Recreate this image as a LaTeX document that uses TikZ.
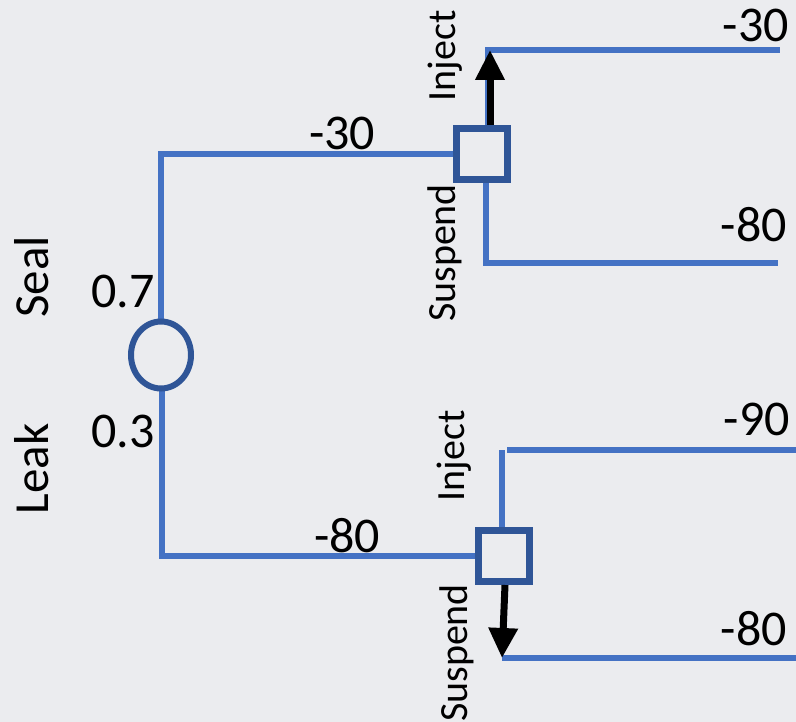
\documentclass[tikz,border=0pt]{standalone}
\usepackage{fontspec}
\setmainfont{Carlito}
\usetikzlibrary{shapes.geometric,arrows.meta}
\definecolor{bgcol}{RGB}{235,236,239}
\definecolor{branchblue}{RGB}{68,114,196}
\definecolor{nodeblue}{RGB}{47,85,151}
\begin{document}
\begin{tikzpicture}[x=1pt,y=-1pt,
  branch/.style={draw=branchblue,line width=6pt},
  chance/.style={ellipse,draw=nodeblue,line width=6pt,fill=bgcol,
    minimum width=60pt,minimum height=67pt,inner sep=0pt},
  decision/.style={rectangle,draw=nodeblue,line width=7pt,fill=bgcol,
    minimum size=51pt,inner sep=0pt},
  choice/.style={draw=black,line width=7pt,
    -{Triangle[width=28pt,length=30pt]}},
  payoff/.style={font=\fontsize{50}{56}\selectfont,inner sep=0pt},
  outcome/.style={font=\fontsize{49}{54}\selectfont,inner sep=0pt,rotate=90,anchor=base},
  action/.style={font=\fontsize{40}{46}\selectfont,inner sep=0pt,rotate=90,anchor=base}]
% canvas
\fill[bgcol] (0,0) rectangle (796,722);
\useasboundingbox (0,0) rectangle (796,722);

% ends of the terminal branches
\coordinate (t1) at (780,50);
\coordinate (t2) at (778,263);
\coordinate (t3) at (796,450);
\coordinate (t4) at (796,658);

% the two decision nodes
\node[decision] (d1) at (482,154) {};
\node[decision] (d2) at (504,556) {};

% branches from the chance node
\draw[branch] (161,340) |- (d1.west);
\draw[branch] (162,370) |- (d2.west);
\node[chance] (c) at (161,355) {};

% upper decision: inject (chosen) / suspend
\draw[branch] ([xshift=6pt]d1.north) |- (t1);
\draw[branch] ([xshift=4pt]d1.south) |- (t2);
\draw[choice] ([xshift=8pt]d1.north) -- ([xshift=8pt]d1.north |- t1);

% lower decision: inject / suspend (chosen)
\draw[branch] ([xshift=-2pt]d2.north) -- ([xshift=-2pt]d2.north |- t3);
\draw[branch] ([xshift=3pt]d2.north |- t3) -- (t3);
\draw[branch] ([xshift=-2pt]d2.south |- t4) -- (t4);
\draw[choice] ([xshift=1pt]d2.south) -- ([xshift=-2pt]d2.south |- t4);

% payoffs
\node[payoff,anchor=base] (p1) at (342,150) {-30};
\node[payoff,anchor=base] (p2) at (347,552) {-80};
\node[payoff,anchor=base east] (p3) at (789,42) {-30};
\node[payoff,anchor=base east] (p4) at (787,242) {-80};
\node[payoff,anchor=base east] (p5) at (790,435) {-90};
\node[payoff,anchor=base east] (p6) at (787,645) {-80};

% probabilities
\node[payoff,anchor=base] (pr1) at (123,308) {0.7};
\node[payoff,anchor=base] (pr2) at (123,447) {0.3};

% outcomes and actions
\node[outcome] (o1) at (48,277) {Seal};
\node[outcome] (o2) at (48,469) {Leak};
\node[action] (a1) at (455,56) {Inject};
\node[action] (a2) at (455,253) {Suspend};
\node[action] (a3) at (464,456) {Inject};
\node[action] (a4) at (467,653) {Suspend};
\end{tikzpicture}
\end{document}
